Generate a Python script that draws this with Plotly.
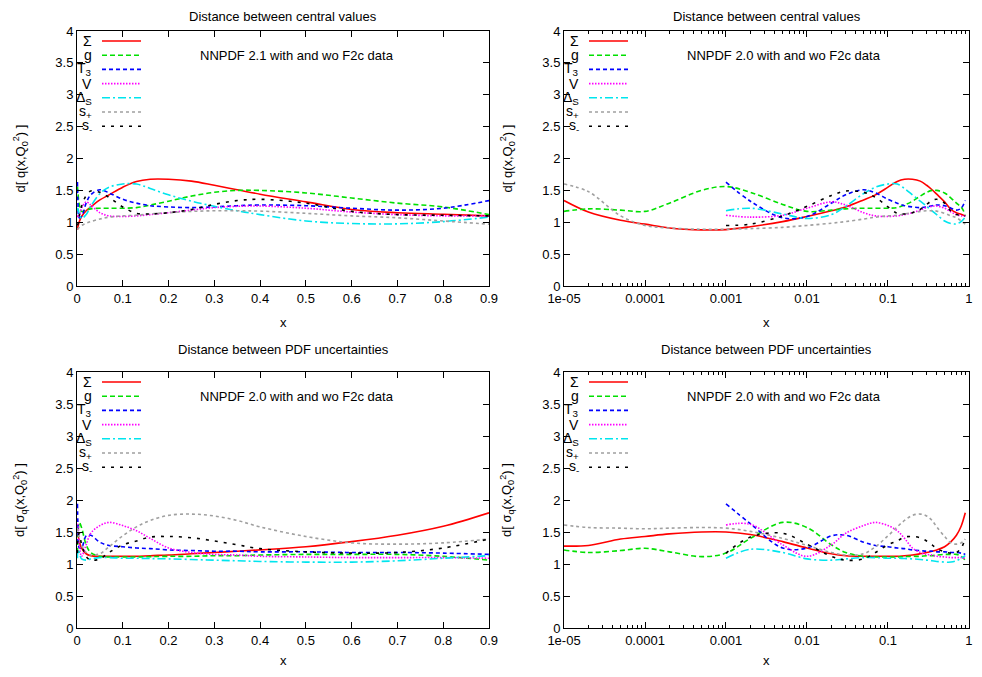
import plotly.graph_objects as go

# page body has an 8px margin on every side; keep the figure inside it
OFF = 8
W, H = 982 - 2 * OFF, 677 - 2 * OFF

# ---------------- data ----------------
x_grid = [1e-5, 2e-5, 5e-5, 1e-4, 2e-4, 5e-4, 1e-3, 2e-3, 5e-3, 0.01, 0.02, 0.03, 0.05,
          0.07, 0.1, 0.13, 0.16, 0.2, 0.25, 0.3, 0.35, 0.4, 0.5, 0.6, 0.7, 0.8, 0.9]
N = None

# central values distance
cv_sigma = [1.34, 1.16, 1.03, 0.97, 0.91, 0.88, 0.885, 0.93, 1.01, 1.09, 1.18, 1.24, 1.35,
            1.43, 1.55, 1.64, 1.675, 1.675, 1.645, 1.58, 1.51, 1.44, 1.32, 1.20, 1.15, 1.125, 1.10]
cv_g = [1.17, 1.21, 1.19, 1.17, 1.30, 1.50, 1.56, 1.47, 1.28, 1.17, 1.19, 1.21, 1.22,
        1.22, 1.22, 1.23, 1.27, 1.33, 1.41, 1.47, 1.50, 1.50, 1.46, 1.38, 1.30, 1.24, 1.12]
cv_t3 = [N, N, N, N, N, N, 1.63, 1.33, 1.07, 1.09, 1.30, 1.43, 1.51,
         1.46, 1.36, 1.30, 1.26, 1.24, 1.23, 1.24, 1.26, 1.27, 1.26, 1.22, 1.19, 1.22, 1.34]
cv_v = [N, N, N, N, N, N, 1.11, 1.08, 1.11, 1.22, 1.32, 1.27, 1.15,
        1.10, 1.09, 1.10, 1.12, 1.15, 1.19, 1.23, 1.25, 1.255, 1.22, 1.16, 1.12, 1.10, 1.10]
cv_ds = [N, N, N, N, N, N, 1.18, 1.22, 1.13, 1.06, 1.12, 1.25, 1.45,
         1.55, 1.60, 1.60, 1.53, 1.43, 1.33, 1.25, 1.18, 1.12, 1.02, 0.98, 0.975, 1.01, 1.08]
cv_splus = [1.60, 1.48, 1.10, 0.95, 0.91, 0.89, 0.89, 0.90, 0.92, 0.95, 0.985, 1.01, 1.05,
            1.08, 1.10, 1.11, 1.13, 1.15, 1.17, 1.18, 1.18, 1.175, 1.14, 1.10, 1.07, 1.02, 0.97]
cv_sminus = [N, N, N, N, N, N, 0.95, 0.97, 1.10, 1.25, 1.42, 1.49, 1.47,
             1.39, 1.24, 1.14, 1.13, 1.15, 1.20, 1.28, 1.34, 1.36, 1.30, 1.17, 1.12, 1.11, 1.10]

# PDF uncertainties distance
un_sigma = [1.28, 1.29, 1.39, 1.43, 1.47, 1.50, 1.50, 1.46, 1.35, 1.25, 1.16, 1.13, 1.12,
            1.12, 1.12, 1.12, 1.13, 1.14, 1.16, 1.18, 1.20, 1.22, 1.27, 1.35, 1.45, 1.59, 1.80]
un_g = [1.22, 1.18, 1.21, 1.245, 1.19, 1.115, 1.17, 1.40, 1.65, 1.57, 1.30, 1.18, 1.12,
        1.11, 1.11, 1.11, 1.115, 1.12, 1.12, 1.13, 1.13, 1.14, 1.15, 1.15, 1.15, 1.12, 1.06]
un_t3 = [N, N, N, N, N, N, 1.94, 1.63, 1.25, 1.25, 1.44, 1.45, 1.34,
         1.29, 1.27, 1.25, 1.24, 1.22, 1.21, 1.20, 1.20, 1.19, 1.19, 1.18, 1.18, 1.17, 1.15]
un_v = [N, N, N, N, N, N, 1.61, 1.62, 1.30, 1.12, 1.30, 1.48, 1.60,
        1.65, 1.60, 1.52, 1.40, 1.25, 1.18, 1.15, 1.14, 1.12, 1.11, 1.10, 1.10, 1.10, 1.09]
un_ds = [N, N, N, N, N, N, 1.09, 1.23, 1.18, 1.08, 1.06, 1.08, 1.10,
         1.10, 1.09, 1.09, 1.085, 1.08, 1.07, 1.06, 1.05, 1.04, 1.03, 1.03, 1.05, 1.09, 1.13]
un_splus = [1.61, 1.57, 1.56, 1.55, 1.56, 1.57, 1.56, 1.51, 1.40, 1.29, 1.18, 1.14, 1.16,
            1.27, 1.44, 1.58, 1.68, 1.76, 1.78, 1.75, 1.68, 1.58, 1.43, 1.33, 1.31, 1.33, 1.39]
un_sminus = [N, N, N, N, N, N, 1.17, 1.42, 1.48, 1.31, 1.12, 1.06, 1.08,
             1.18, 1.30, 1.36, 1.42, 1.43, 1.41, 1.36, 1.30, 1.24, 1.19, 1.17, 1.18, 1.25, 1.39]

series_names = ["Σ", "g", "T<sub>3</sub>", "V", "Δ<sub>S</sub>", "s<sub>+</sub>", "s<sub>-</sub>"]
central = [cv_sigma, cv_g, cv_t3, cv_v, cv_ds, cv_splus, cv_sminus]
uncert = [un_sigma, un_g, un_t3, un_v, un_ds, un_splus, un_sminus]

colors = ["#ff0000", "#00e000", "#0000ff", "#ff00ff", "#00e5ee", "#a0a0a0", "#000000"]
dashes = ["solid", "5px,3px", "4px,3px", "1.5px,1.5px", "8px,3px,2px,3px", "3px,3px", "3px,6px"]

lin_ticks = [0, 0.1, 0.2, 0.3, 0.4, 0.5, 0.6, 0.7, 0.8, 0.9]
lin_ticktext = ["0", "0.1", "0.2", "0.3", "0.4", "0.5", "0.6", "0.7", "0.8", "0.9"]
log_ticks = [1e-5, 1e-4, 1e-3, 1e-2, 1e-1, 1]
log_ticktext = ["1e-05", "0.0001", "0.001", "0.01", "0.1", "1"]
y_ticks = [0, 0.5, 1, 1.5, 2, 2.5, 3, 3.5, 4]

titles = ["Distance between central values", "Distance between central values",
          "Distance between PDF uncertainties", "Distance between PDF uncertainties"]
notes = ["NNPDF 2.1 with and wo F2c data", "NNPDF 2.0 with and wo F2c data",
         "NNPDF 2.0 with and wo F2c data", "NNPDF 2.0 with and wo F2c data"]
ylabels = ["d[ q(x,Q<sub>0</sub><sup>2</sup>) ]", "d[ q(x,Q<sub>0</sub><sup>2</sup>) ]",
           "d[ σ<sub>q</sub>(x,Q<sub>0</sub><sup>2</sup>) ]", "d[ σ<sub>q</sub>(x,Q<sub>0</sub><sup>2</sup>) ]"]

# ---------------- layout helpers (screen pixel -> paper) ----------------
def px(x):
    return (x - OFF) / W

def py(y):
    return 1 - (y - OFF) / H

boxes = [(77, 489, 31, 286), (564, 969, 31, 286), (77, 489, 372, 628), (564, 969, 372, 628)]
FONT = "Liberation Sans, Arial, sans-serif"

fig = go.Figure()
layout = dict(width=W, height=H, margin=dict(l=0, r=0, t=0, b=0, pad=0, autoexpand=False),
              paper_bgcolor="white", plot_bgcolor="white", showlegend=False,
              font=dict(family=FONT, size=13, color="black"))
annotations = []
shapes = []

for p in range(4):
    x0, x1, y0, y1 = boxes[p]
    ax = "" if p == 0 else str(p + 1)
    is_log = p in (1, 3)
    data = central if p < 2 else uncert
    for i in range(7):
        if is_log:
            xs, ys = x_grid, data[i]
        else:
            xs = [xv for xv in x_grid if xv >= 1e-3]
            ys = [yv for xv, yv in zip(x_grid, data[i]) if xv >= 1e-3]
        fig.add_trace(go.Scatter(x=xs, y=ys, mode="lines", xaxis="x" + ax, yaxis="y" + ax,
                                 line=dict(color=colors[i], width=1.6, dash=dashes[i],
                                           shape="spline", smoothing=1.0),
                                 hoverinfo="skip"))
    xa = dict(domain=[px(x0), px(x1)], anchor="y" + ax, showgrid=False, zeroline=False,
              showline=True, linecolor="black", linewidth=1, mirror="allticks",
              ticks="inside", ticklen=6, tickcolor="black", automargin=False,
              ticklabeloverflow="allow",
              tickfont=dict(family=FONT, size=13, color="black"))
    if is_log:
        xa.update(type="log", range=[-5, 0.0002], tickvals=log_ticks, ticktext=log_ticktext,
                  minor=dict(ticks="inside", ticklen=3, tickcolor="black",
                             tickvals=[m * 10 ** e for e in range(-5, 0) for m in range(2, 10)]))
    else:
        xa.update(range=[0, 0.9], tickvals=lin_ticks, ticktext=lin_ticktext)
    ya = dict(domain=[py(y1), py(y0)], anchor="x" + ax, showgrid=False, zeroline=False,
              showline=True, linecolor="black", linewidth=1, mirror="allticks",
              ticks="inside", ticklen=6, tickcolor="black", range=[0, 4], tickvals=y_ticks,
              automargin=False, ticklabeloverflow="allow",
              tickfont=dict(family=FONT, size=13, color="black"))
    layout["xaxis" + ax] = xa
    layout["yaxis" + ax] = ya

    cx = (x0 + x1) / 2
    title_y = max(y0 - 23, 16)
    annotations.append(dict(x=px(cx), y=py(title_y), xref="paper", yref="paper",
                            text=titles[p], showarrow=False, xanchor="center", yanchor="middle",
                            font=dict(size=13)))
    annotations.append(dict(x=px(x0 + 220), y=py(y0 + 24), xref="paper", yref="paper",
                            text=notes[p], showarrow=False, xanchor="center", yanchor="middle",
                            font=dict(size=13)))
    annotations.append(dict(x=px(cx), y=py(min(y1 + 36, 660)), xref="paper", yref="paper",
                            text="x", showarrow=False, xanchor="center", yanchor="middle",
                            font=dict(size=13)))
    annotations.append(dict(x=px(x0 - 57), y=py((y0 + y1) / 2), xref="paper", yref="paper",
                            text=ylabels[p], showarrow=False, textangle=-90,
                            xanchor="center", yanchor="middle", font=dict(size=13)))
    # key
    for i in range(7):
        ry = y0 + 10 + i * 14.2
        annotations.append(dict(x=px(x0 + 17), y=py(ry), xref="paper", yref="paper",
                                text=series_names[i], showarrow=False, xanchor="right",
                                yanchor="middle", font=dict(size=14)))
        shapes.append(dict(type="line", xref="paper", yref="paper",
                           x0=px(x0 + 25), x1=px(x0 + 64), y0=py(ry), y1=py(ry),
                           line=dict(color=colors[i], width=1.6, dash=dashes[i])))

layout["annotations"] = annotations
layout["shapes"] = shapes
fig.update_layout(**layout)
fig.write_html("out.html")
